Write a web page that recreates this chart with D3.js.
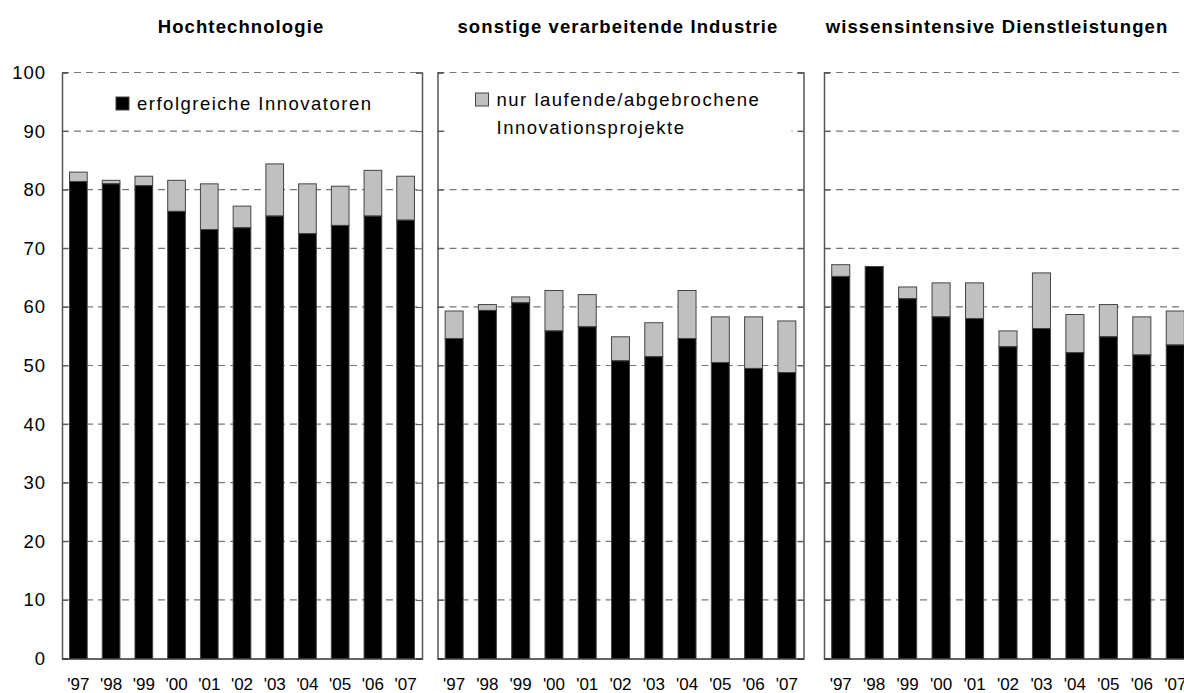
<!DOCTYPE html>
<html>
<head>
<meta charset="utf-8">
<script src="https://cdn.jsdelivr.net/npm/d3@7"></script>
<style>
  body { margin: 0; background: #fff; }
  svg { font-family: "Liberation Sans", Arial, sans-serif; }
</style>
</head>
<body>
<div id="chart"></div>
<script>
var years = ["'97", "'98", "'99", "'00", "'01", "'02", "'03", "'04", "'05", "'06", "'07"];
var panelTitles = ["Hochtechnologie", "sonstige verarbeitende Industrie", "wissensintensive Dienstleistungen"];
var seriesNames = ["erfolgreiche Innovatoren", "nur laufende/abgebrochene", "Innovationsprojekte"];
var yTicks = [0, 10, 20, 30, 40, 50, 60, 70, 80, 90, 100];

// erfolgreiche Innovatoren (black) and total incl. laufende/abgebrochene (top of grey)
var hochSuccess = [81.4, 81.0, 80.7, 76.3, 73.2, 73.5, 75.5, 72.5, 73.9, 75.5, 74.8];
var hochTotal   = [83.0, 81.6, 82.3, 81.6, 81.0, 77.2, 84.4, 81.0, 80.6, 83.3, 82.3];
var sonstSuccess = [54.6, 59.4, 60.7, 55.9, 56.6, 50.8, 51.5, 54.6, 50.5, 49.5, 48.8];
var sonstTotal   = [59.3, 60.4, 61.7, 62.8, 62.1, 54.9, 57.3, 62.8, 58.3, 58.3, 57.6];
var wissSuccess = [65.2, 66.9, 61.4, 58.3, 58.0, 53.2, 56.3, 52.2, 54.9, 51.8, 53.5];
var wissTotal   = [67.2, 66.9, 63.4, 64.1, 64.1, 55.9, 65.8, 58.7, 60.4, 58.3, 59.3];

var panels = [
  {title: panelTitles[0], success: hochSuccess, total: hochTotal, x0: 62, x1: 422, tx: 241},
  {title: panelTitles[1], success: sonstSuccess, total: sonstTotal, x0: 437.5, x1: 803.5, tx: 618},
  {title: panelTitles[2], success: wissSuccess, total: wissTotal, x0: 824, x1: 1192, tx: 997}
];

var W = 1184, H = 693;
var yTop = 72.5, yBottom = 658.5;

var svg = d3.select("#chart").append("svg")
    .attr("width", W)
    .attr("height", H);

var y = d3.scaleLinear()
    .domain([0, 100])
    .range([yBottom, yTop]);

panels.forEach(function(p, pi) {
  var w = p.x1 - p.x0;
  var x = d3.scaleBand()
      .domain(years)
      .range([0, w])
      .paddingInner(0.46)
      .paddingOuter(0.23);

  // title
  svg.append("text")
      .attr("x", p.tx)
      .attr("y", 33)
      .attr("text-anchor", "middle")
      .style("font-weight", "bold")
      .style("font-size", "18.5px")
      .style("letter-spacing", "1.1px")
      .text(p.title);

  var g = svg.append("g")
      .attr("transform", "translate(" + p.x0 + ",0)");

  // dashed gridlines
  g.selectAll(".grid").data(yTicks.slice(1)).enter()
    .append("line")
      .attr("x1", 0).attr("x2", w)
      .attr("y1", function(d) { return y(d); })
      .attr("y2", function(d) { return y(d); })
      .attr("stroke", "#777")
      .attr("stroke-width", 1.2)
      .attr("stroke-dasharray", "7,5");

  // legend background in panel 2 hides the 90 gridline
  if (pi === 1) {
    g.append("rect")
      .attr("x", 8).attr("y", 82)
      .attr("width", w - 20).attr("height", 62)
      .attr("fill", "#fff");
  }

  // bars
  var bars = g.selectAll(".bar").data(years).enter();
  bars.append("rect")
      .attr("x", function(d) { return x(d); })
      .attr("width", x.bandwidth())
      .attr("y", function(d, i) { return y(p.total[i]); })
      .attr("height", function(d, i) { return y(p.success[i]) - y(p.total[i]); })
      .attr("fill", "#c0c0c0")
      .attr("stroke", "#444")
      .attr("stroke-width", 1);
  bars.append("rect")
      .attr("x", function(d) { return x(d); })
      .attr("width", x.bandwidth())
      .attr("y", function(d, i) { return y(p.success[i]); })
      .attr("height", function(d, i) { return yBottom - y(p.success[i]); })
      .attr("fill", "#000")
      .attr("stroke", "#444")
      .attr("stroke-width", 1);

  // left / right axes with inward ticks
  var left = g.append("g")
      .call(d3.axisLeft(y).tickValues(yTicks).tickSize(-6).tickPadding(16)
        .tickFormat(pi === 0 ? d3.format("d") : function() { return ""; }));
  left.selectAll("text")
      .style("font-size", "18.5px")
      .style("letter-spacing", "1px")
      .attr("fill", "#000");

  var right = g.append("g")
      .attr("transform", "translate(" + w + ",0)")
      .call(d3.axisRight(y).tickValues(yTicks).tickSize(-6).tickFormat(""));

  [left, right].forEach(function(a) {
    a.select(".domain").attr("stroke", "#555").attr("stroke-width", 1.5);
    a.selectAll(".tick line").attr("stroke", "#555");
  });

  // bottom axis
  var bottom = g.append("g")
      .attr("transform", "translate(0," + yBottom + ")")
      .call(d3.axisBottom(x).tickSize(0).tickPadding(19));
  bottom.select(".domain").attr("stroke", "#333").attr("stroke-width", 1.5);
  bottom.selectAll("text").style("font-size", "17px").attr("fill", "#000");
});

// legends
var g1 = svg.append("g").attr("transform", "translate(" + panels[0].x0 + ",0)");
g1.append("rect").attr("x", 54).attr("y", 97).attr("width", 13).attr("height", 13)
    .attr("fill", "#000").attr("stroke", "#444");
g1.append("text").attr("x", 75).attr("y", 110)
    .style("font-size", "18.5px").style("letter-spacing", "1.5px")
    .text(seriesNames[0]);

var g2 = svg.append("g").attr("transform", "translate(" + panels[1].x0 + ",0)");
g2.append("rect").attr("x", 38).attr("y", 93).attr("width", 13).attr("height", 13)
    .attr("fill", "#c0c0c0").attr("stroke", "#444");
g2.selectAll(".leg2").data(seriesNames.slice(1)).enter()
  .append("text")
    .attr("x", 59)
    .attr("y", function(d, i) { return 106 + i * 27.5; })
    .style("font-size", "18.5px").style("letter-spacing", "1.5px")
    .text(function(d) { return d; });
</script>
</body>
</html>
